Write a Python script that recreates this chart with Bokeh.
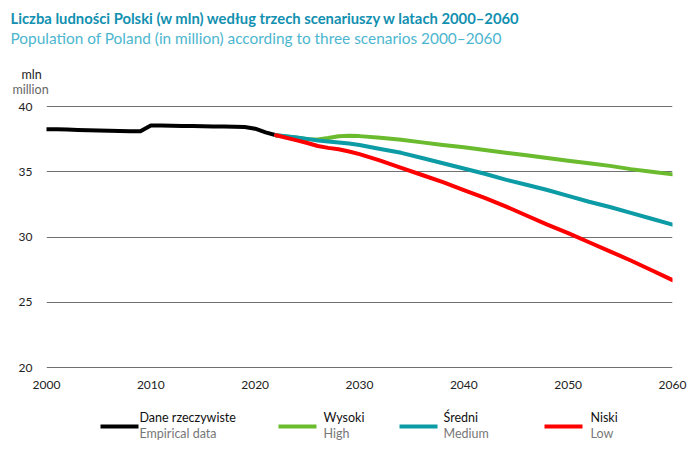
from bokeh.plotting import figure
from bokeh.layouts import column
from bokeh.models import Range1d, Label, FixedTicker
from bokeh.embed import file_html
from bokeh.resources import INLINE

# ---- data ----
years_emp = list(range(2000, 2023))
empirical = [38.26, 38.25, 38.23, 38.20, 38.18, 38.16, 38.14, 38.12, 38.11, 38.10,
             38.55, 38.54, 38.53, 38.51, 38.50, 38.48, 38.47, 38.46, 38.45, 38.43,
             38.30, 38.02, 37.80]

years_proj = [2022, 2024, 2025, 2026, 2027, 2028, 2029, 2030, 2032, 2034, 2036, 2038,
              2040, 2042, 2044, 2046, 2048, 2050, 2052, 2054, 2056, 2058, 2060]
high = [37.80, 37.60, 37.50, 37.47, 37.58, 37.72, 37.76, 37.73, 37.60, 37.45, 37.25, 37.05,
        36.87, 36.67, 36.46, 36.26, 36.05, 35.85, 35.65, 35.45, 35.20, 35.00, 34.80]
medium = [37.80, 37.62, 37.52, 37.40, 37.32, 37.24, 37.16, 37.05, 36.75, 36.45, 36.05, 35.65,
          35.25, 34.85, 34.40, 34.00, 33.60, 33.15, 32.70, 32.30, 31.85, 31.40, 30.95]
low = [37.80, 37.40, 37.20, 36.97, 36.83, 36.72, 36.55, 36.35, 35.85, 35.30, 34.75, 34.20,
       33.60, 33.00, 32.35, 31.65, 30.95, 30.30, 29.60, 28.90, 28.20, 27.45, 26.70]

x_ticks = [2000, 2010, 2020, 2030, 2040, 2050, 2060]
y_ticks = [20, 25, 30, 35, 40]

title_pl = "Liczba ludności Polski (w mln) według trzech scenariuszy w latach 2000–2060"
title_en = "Population of Poland (in million) according to three scenarios 2000–2060"
unit_pl = "mln"
unit_en = "million"
legend_pl = ["Dane rzeczywiste", "Wysoki", "Średni", "Niski"]
legend_en = ["Empirical data", "High", "Medium", "Low"]
colors = ["#000000", "#6abb2e", "#0d9ba6", "#ff0000"]

FONT = "Lato"
W = 700


def blank_fig(height, top):
    """Figure whose frame covers the whole canvas; y in page pixels from the top."""
    f = figure(width=W, height=height, output_backend="svg", toolbar_location=None,
               x_range=Range1d(0, W), y_range=Range1d(top + height, top),
               x_axis_type=None, y_axis_type=None, min_border=0, frame_align=False)
    f.outline_line_color = None
    f.xgrid.visible = False
    f.ygrid.visible = False
    return f


def lab(f, text, x, y, size, color, style="normal", align="left"):
    f.add_layout(Label(x=x, y=y, text=text, text_font=FONT, text_font_size=size,
                       text_color=color, text_font_style=style, text_align=align,
                       text_baseline="middle"))


# ---- header ----
TOP_H = 98
head = blank_fig(TOP_H, 0)
lab(head, title_pl, 10, 17, "14.8px", "#1290b0", style="bold")
lab(head, title_en, 10, 37, "15.4px", "#4db6cf")
lab(head, unit_pl, 31, 74, "12.5px", "#222222", align="center")
lab(head, unit_en, 30, 89, "12.5px", "#666666", align="center")

# ---- main chart ----
PX_PER_MLN = 13.05
pad = 1 / PX_PER_MLN
MAIN_TOP, MAIN_BOT = 7, 28
MAIN_H = MAIN_TOP + 263 + MAIN_BOT
p = figure(width=W, height=MAIN_H, output_backend="svg", toolbar_location=None,
           x_range=Range1d(2000, 2060), y_range=Range1d(20 - pad, 40 + pad),
           min_border_left=46, min_border_right=28, min_border_top=MAIN_TOP,
           min_border_bottom=MAIN_BOT, frame_align=False)
p.outline_line_color = None
p.xgrid.visible = False
p.ygrid.grid_line_color = "#707070"
p.ygrid.grid_line_width = 1
p.ygrid.ticker = FixedTicker(ticks=y_ticks)
p.xaxis.ticker = FixedTicker(ticks=x_ticks)
p.yaxis.ticker = FixedTicker(ticks=y_ticks)
for ax in (p.xaxis[0], p.yaxis[0]):
    ax.axis_line_color = None
    ax.major_tick_line_color = None
    ax.minor_tick_line_color = None
    ax.major_label_text_font = FONT
    ax.major_label_text_font_size = "12px"
    ax.major_label_text_color = "#222222"
p.xaxis.major_label_standoff = 6
p.yaxis.major_label_standoff = 8

for xs, ys, c in [(years_emp, empirical, colors[0]), (years_proj, high, colors[1]),
                  (years_proj, medium, colors[2]), (years_proj, low, colors[3])]:
    p.line(xs, ys, line_color=c, line_width=4, line_join="round", line_cap="round")

# ---- legend ----
LEG_TOP = TOP_H + MAIN_H
leg = blank_fig(459 - LEG_TOP, LEG_TOP)
seg_x0 = [100, 278, 399, 544]
seg_len = 38
txt_x = [139, 323, 443, 590]
leg.segment(x0=seg_x0, y0=[426] * 4, x1=[x + seg_len for x in seg_x0], y1=[426] * 4,
            line_color=colors, line_width=4)
for tx, tpl, ten in zip(txt_x, legend_pl, legend_en):
    lab(leg, tpl, tx, 417, "12.5px", "#111111")
    lab(leg, ten, tx, 433, "12.5px", "#777777")

layout = column(head, p, leg, spacing=0)
open("out.html", "w").write(file_html(layout, INLINE))
